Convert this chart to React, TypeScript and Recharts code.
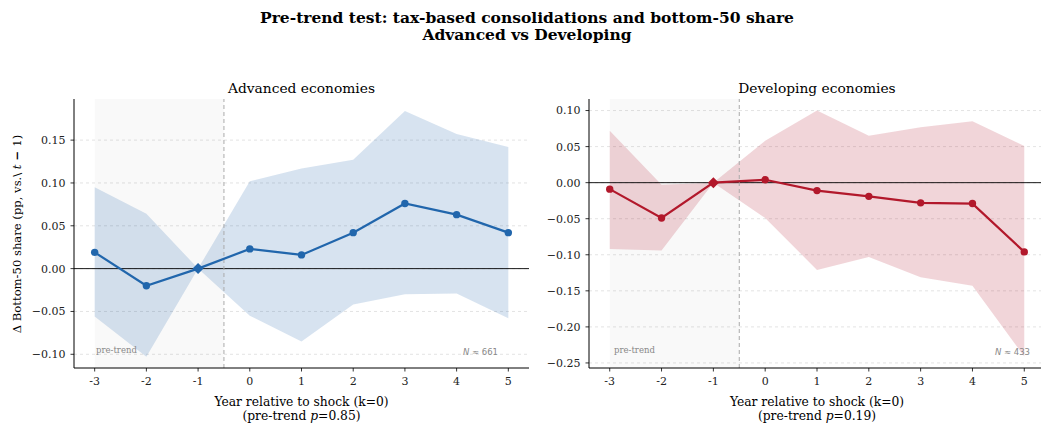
import React from 'react';
import {
  ComposedChart,
  Area,
  Line,
  XAxis,
  YAxis,
  CartesianGrid,
  ReferenceLine,
  ReferenceArea,
} from 'recharts';

// Event-study estimates by year relative to the consolidation shock
const years = [-3, -2, -1, 0, 1, 2, 3, 4, 5];

const advCoef = [0.019, -0.020, 0, 0.023, 0.016, 0.042, 0.076, 0.063, 0.042];
const advLo = [-0.056, -0.103, 0, -0.055, -0.085, -0.042, -0.030, -0.029, -0.058];
const advHi = [0.095, 0.064, 0, 0.102, 0.117, 0.127, 0.184, 0.157, 0.142];

const devCoef = [-0.009, -0.049, 0, 0.004, -0.011, -0.019, -0.028, -0.029, -0.096];
const devLo = [-0.092, -0.094, 0, -0.049, -0.121, -0.103, -0.131, -0.143, -0.241];
const devHi = [0.072, -0.003, 0, 0.058, 0.100, 0.065, 0.077, 0.085, 0.051];

const advTicks = [-0.1, -0.05, 0, 0.05, 0.1, 0.15];
const devTicks = [-0.25, -0.2, -0.15, -0.1, -0.05, 0, 0.05, 0.1];

const REF_YEAR = -1;

const build = (coef: number[], lo: number[], hi: number[]) =>
  years.map((k, i) => ({ k, coef: coef[i], lo: lo[i], hi: hi[i] }));

const advData = build(advCoef, advLo, advHi);
const devData = build(devCoef, devLo, devHi);

const SERIF = 'DejaVu Serif';
const SANS = 'DejaVu Sans';

const fmtY = (v: number) => (v < 0 ? '\u2212' : '') + Math.abs(v).toFixed(2);

const makeDot = (color: string) => (props: any) => {
  const { cx, cy, payload, index } = props;
  if (cx == null || cy == null) return <g key={`d${index}`} />;
  if (payload.k === REF_YEAR) {
    const s = 5.5;
    return (
      <polygon
        key={`d${index}`}
        points={`${cx},${cy - s} ${cx + s},${cy} ${cx},${cy + s} ${cx - s},${cy}`}
        fill={color}
      />
    );
  }
  return <circle key={`d${index}`} cx={cx} cy={cy} r={3.7} fill={color} />;
};

type PanelProps = {
  data: any[];
  color: string;
  domain: [number, number];
  ticks: number[];
  width: number;
  margin: { top: number; left: number; right: number; bottom: number };
  yWidth: number;
};

const Panel = ({ data, color, domain, ticks, width, margin, yWidth }: PanelProps) => (
  <ComposedChart width={width} height={425} data={data} margin={margin}>
    <CartesianGrid
      horizontal
      vertical={false}
      horizontalValues={ticks}
      stroke="#dcdcdc"
      strokeDasharray="3 3"
      strokeWidth={0.8}
    />
    <XAxis
      type="number"
      dataKey="k"
      domain={[-3.4, 5.4]}
      ticks={years}
      allowDataOverflow
      height={30}
      tickSize={3.5}
      tickMargin={6}
      axisLine={{ stroke: '#000', strokeWidth: 1 }}
      tickLine={{ stroke: '#000', strokeWidth: 0.8 }}
      tick={{ fill: '#222', fontSize: 11, fontFamily: SERIF }}
      interval={0}
    />
    <YAxis
      type="number"
      domain={domain}
      ticks={ticks}
      allowDataOverflow
      width={yWidth}
      tickSize={3.5}
      tickMargin={5}
      tickFormatter={fmtY}
      axisLine={{ stroke: '#000', strokeWidth: 1 }}
      tickLine={{ stroke: '#000', strokeWidth: 0.8 }}
      tick={{ fill: '#222', fontSize: 11, fontFamily: SERIF }}
      interval={0}
    />
    <ReferenceArea
      x1={-3}
      x2={-0.5}
      y1={domain[0]}
      y2={domain[1]}
      fill="#000"
      fillOpacity={0.025}
      stroke="none"
      ifOverflow="hidden"
    />
    <Area
      type="linear"
      dataKey={(d: any) => [d.lo, d.hi]}
      stroke="none"
      fill={color}
      fillOpacity={0.18}
      isAnimationActive={false}
      activeDot={false}
    />
    <ReferenceLine y={0} stroke="#000" strokeWidth={0.9} />
    <ReferenceLine x={-0.5} stroke="#aaa" strokeWidth={1} strokeDasharray="4 3" />
    <Line
      type="linear"
      dataKey="coef"
      stroke={color}
      strokeWidth={2.2}
      dot={makeDot(color)}
      activeDot={false}
      isAnimationActive={false}
    />
  </ComposedChart>
);

const BLUE = '#2166ac';
const RED = '#b2182b';

export default function App() {
  return (
    <div
      style={{
        position: 'absolute',
        left: 0,
        top: 0,
        width: 1041,
        height: 425,
        overflow: 'hidden',
        background: '#fff',
      }}
    >
      <div style={{ position: 'absolute', left: 0, top: 0 }}>
        <Panel
          data={advData}
          color={BLUE}
          domain={[-0.116, 0.198]}
          ticks={advTicks}
          width={540}
          margin={{ top: 99, left: 14, right: 11, bottom: 27 }}
          yWidth={60}
        />
      </div>
      <div style={{ position: 'absolute', left: 530, top: 0 }}>
        <Panel
          data={devData}
          color={RED}
          domain={[-0.257, 0.116]}
          ticks={devTicks}
          width={516}
          margin={{ top: 99, left: 9, right: 1, bottom: 27 }}
          yWidth={50}
        />
      </div>
      <svg
        width={1041}
        height={425}
        style={{ position: 'absolute', left: 0, top: 0, pointerEvents: 'none' }}
      >
        <g fontFamily={SERIF} fill="#000">
          <text x={527} y={22.5} textAnchor="middle" fontSize={15.5} fontWeight="bold">
            Pre-trend test: tax-based consolidations and bottom-50 share
          </text>
          <text x={527} y={39.5} textAnchor="middle" fontSize={15.5} fontWeight="bold">
            Advanced vs Developing
          </text>

          <text x={301.5} y={93} textAnchor="middle" fontSize={13.8}>
            Advanced economies
          </text>
          <text x={817} y={93} textAnchor="middle" fontSize={13.8}>
            Developing economies
          </text>

          <text
            transform="translate(21,234) rotate(-90)"
            textAnchor="middle"
            fontSize={11.6}
          >
            {'\u0394 Bottom-50 share (pp, vs.\\ '}
            <tspan fontStyle="italic">t</tspan>
            <tspan fontWeight="bold">{' \u2212 '}</tspan>1)
          </text>

          <text x={301.5} y={405.5} textAnchor="middle" fontSize={12.3}>
            Year relative to shock (k=0)
          </text>
          <text x={301.5} y={419.5} textAnchor="middle" fontSize={12.3}>
            (pre-trend <tspan fontStyle="italic">p</tspan>=0.85)
          </text>
          <text x={817} y={405.5} textAnchor="middle" fontSize={12.3}>
            Year relative to shock (k=0)
          </text>
          <text x={817} y={419.5} textAnchor="middle" fontSize={12.3}>
            (pre-trend <tspan fontStyle="italic">p</tspan>=0.19)
          </text>

          <text x={96} y={353} fontSize={8.5} fill="#888">
            pre-trend
          </text>
          <text x={614} y={353} fontSize={8.5} fill="#888">
            pre-trend
          </text>
        </g>
        <g fontFamily={SANS} fill="#888" fontSize={8.5}>
          <text x={498} y={355} textAnchor="end">
            <tspan fontStyle="italic">N</tspan> {'\u2248'} 661
          </text>
          <text x={1030} y={355} textAnchor="end">
            <tspan fontStyle="italic">N</tspan> {'\u2248'} 433
          </text>
        </g>
      </svg>
    </div>
  );
}
